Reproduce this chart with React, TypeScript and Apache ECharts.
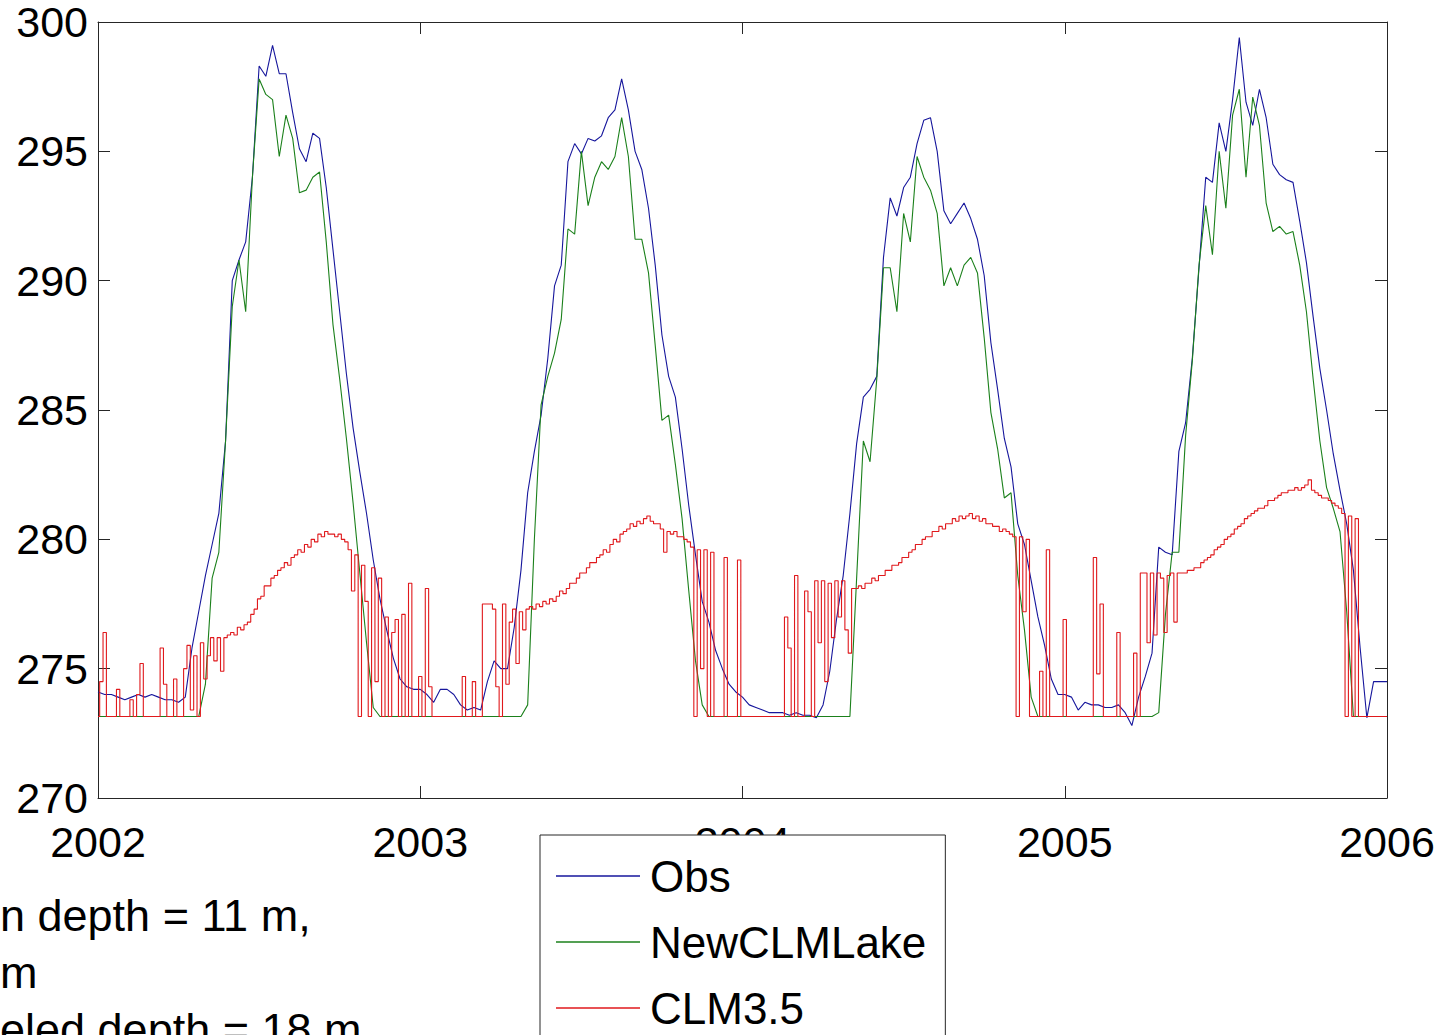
import React, { useEffect, useRef } from "react";
import * as echarts from "echarts";

// ---------- data ----------
const F = 273.15; // freezing floor (K)
const X_MIN = 2002;
const X_MAX = 2006;
const Y_MIN = 270;
const Y_MAX = 300;
const Y_INTERVAL = 5;
const SERIES_NAMES = ["Obs", "NewCLMLake", "CLM3.5"];
const NOTE_LINES = ["n depth = 11 m,", "m", "eled depth = 18 m"];

// weekly-ish sampling (1/48 yr) for Obs and NewCLMLake
const OBS_STEP = 1 / 48;
// finer sampling (1/96 yr) for CLM3.5
const CLM_STEP = 1 / 96;

const obs2002 = [274.1, 274.0, 274.0, 273.9, 273.8, 273.9, 274.0, 273.9, 274.0, 273.9, 273.8, 273.8, 273.7, 273.9, 275.8, 277.2,
  278.6, 279.8, 281.0, 283.8, 290.0, 290.8, 291.5, 294.0, 298.3, 297.9, 299.1, 298.0, 298.0, 296.5, 295.1, 294.6,
  295.7, 295.5, 293.6, 291.2, 288.8, 286.4, 284.3, 282.6, 281.0, 279.2, 277.7, 276.5, 275.4, 274.6, 274.3, 274.2];
const obs2003 = [274.2, 274.0, 273.7, 274.2, 274.2, 274.0, 273.6, 273.4, 273.5, 273.4, 274.5, 275.3, 275.0, 275.0, 276.6, 278.8,
  281.8, 283.4, 284.8, 287.0, 289.8, 290.6, 294.6, 295.3, 294.9, 295.5, 295.4, 295.6, 296.3, 296.6, 297.8, 296.6,
  295.0, 294.3, 292.8, 290.6, 287.9, 286.3, 285.5, 283.5, 281.3, 279.4, 277.6, 276.8, 275.7, 275.0, 274.4, 274.1];
const obs2004 = [273.9, 273.6, 273.5, 273.4, 273.3, 273.3, 273.3, 273.2, 273.3, 273.2, 273.2, 273.1, 273.6, 274.9, 276.9, 278.6,
  281.0, 283.7, 285.5, 285.8, 286.3, 290.9, 293.2, 292.5, 293.6, 294.0, 295.3, 296.2, 296.3, 295.0, 292.7, 292.2,
  292.6, 293.0, 292.4, 291.6, 290.2, 287.6, 285.8, 283.9, 282.8, 280.6, 279.8, 278.4, 277.0, 275.9, 274.6, 274.0];
const obs2005 = [274.0, 273.9, 273.4, 273.7, 273.6, 273.6, 273.5, 273.5, 273.6, 273.3, 272.8, 273.9, 274.7, 275.6, 279.7, 279.5,
  279.4, 283.4, 284.5, 287.0, 290.5, 294.0, 293.8, 296.1, 295.0, 297.0, 299.4, 296.9, 296.0, 297.4, 296.3, 294.5,
  294.1, 293.9, 293.8, 292.3, 290.7, 288.6, 286.6, 285.0, 283.3, 281.9, 280.6, 278.8, 275.8, 273.1, 274.5, 274.5, 274.5];

const new2002 = [F, F, F, F, F, F, F, F, F, F, F, F, F, F, F, F,
  274.4, 278.5, 279.5, 283.8, 289.0, 290.8, 288.8, 294.0, 297.8, 297.2, 297.0, 294.8, 296.4, 295.5, 293.4, 293.5,
  294.0, 294.2, 291.5, 288.3, 286.2, 283.9, 281.4, 278.7, 276.0, 273.5, F, F, F, F, F, F];
const new2003 = [F, F, F, F, F, F, F, F, F, F, F, F, F, F, F, F,
  273.6, 280.0, 285.2, 286.3, 287.2, 288.5, 292.0, 291.8, 295.0, 292.9, 294.0, 294.6, 294.3, 294.8, 296.3, 294.8,
  291.6, 291.6, 290.3, 287.5, 284.6, 284.8, 282.9, 280.8, 278.0, 275.3, 273.6, F, F, F, F, F];
const new2004 = [F, F, F, F, F, F, F, F, F, F, F, F, F, F, F, F,
  F, 278.5, 283.8, 283.0, 286.2, 290.5, 290.5, 288.8, 292.6, 291.5, 294.8, 294.0, 293.5, 292.6, 289.8, 290.5,
  289.8, 290.6, 290.9, 290.3, 287.8, 284.9, 283.5, 281.6, 281.8, 278.6, 276.5, 273.9, F, F, F, F];
const new2005 = [F, F, F, F, F, F, F, F, F, F, F, F, F, F, 273.3, 277.1,
  279.5, 279.5, 284.0, 286.9, 290.6, 292.9, 291.0, 295.0, 292.8, 296.4, 297.4, 294.0, 297.1, 296.0, 293.0, 291.9,
  292.1, 291.8, 291.9, 290.6, 288.8, 286.2, 283.8, 282.0, 281.2, 280.3, 277.2, F, F, F, F, F, F];

const clm2002 = [F, 274.5, 276.4, F, F, F, 274.2, F, F, F, 273.8, F, 274.0, 275.2, F, F,
  F, F, F, 275.8, 274.4, F, F, 274.6, F, F, 275.0, 275.9, 273.4, 275.5, F, 276.0,
  274.6, 275.5, 276.2, 275.3, 276.2, 274.9, 276.2, 276.3, 276.4, 276.3, 276.6, 276.5, 276.7, 276.8, 277.1, 277.3,
  277.7, 277.8, 278.2, 278.2, 278.5, 278.6, 278.8, 278.9, 279.1, 279.0, 279.3, 279.4, 279.6, 279.5, 279.8, 279.7,
  280.0, 279.9, 280.2, 280.1, 280.3, 280.2, 280.2, 280.1, 280.2, 280.0, 279.9, 279.6, 278.0, 279.4, F, 279.0,
  277.6, F, 278.9, 274.5, 278.5, F, 277.0, F, 276.4, 276.9, F, 277.1, F, 278.3, F, F];
const clm2003 = [274.7, F, 278.1, 274.3, F, F, F, F, F, F, F, F, F, 274.7, F, F,
  274.5, F, F, 277.5, 277.5, 277.5, 277.3, 274.3, F, 277.5, 274.4, 276.8, 277.3, 275.2, 277.2, 276.5,
  277.3, 277.4, 277.3, 277.5, 277.4, 277.6, 277.5, 277.7, 277.6, 277.8, 278.0, 277.9, 278.1, 278.3, 278.3, 278.5,
  278.7, 278.7, 278.9, 279.1, 279.1, 279.3, 279.4, 279.6, 279.5, 279.8, 280.0, 279.9, 280.2, 280.3, 280.4, 280.6,
  280.5, 280.7, 280.6, 280.8, 280.9, 280.7, 280.6, 280.6, 280.4, 279.5, 280.3, 280.2, 280.3, 280.1, 280.1, 280.0,
  279.9, 279.7, F, 279.6, 275.0, 279.6, F, 279.5, F, F, F, 279.3, F, F, F, 279.2];
const clm2004 = [F, F, F, F, F, F, F, F, F, F, F, F, F, 277.0, 275.8, F,
  278.6, F, F, 278.0, 277.2, F, 278.4, 276.0, 278.4, 274.5, 278.3, 276.2, 278.4, 277.0, 278.4, 276.5,
  275.6, 278.1, 278.1, 278.2, 278.1, 278.3, 278.3, 278.5, 278.4, 278.6, 278.6, 278.8, 278.8, 279.0, 279.0, 279.1,
  279.3, 279.3, 279.5, 279.6, 279.8, 279.8, 280.0, 280.1, 280.1, 280.3, 280.3, 280.5, 280.4, 280.6, 280.6, 280.8,
  280.7, 280.9, 280.8, 280.9, 281.0, 280.8, 280.9, 280.7, 280.8, 280.6, 280.6, 280.5, 280.5, 280.3, 280.4, 280.3,
  280.2, 280.1, F, 280.1, 277.2, 280.0, F, F, F, 274.9, F, 279.6, F, F, F, F];
const clm2005 = [276.9, F, F, F, F, F, F, F, F, 279.3, 274.8, 277.5, F, F, F, F,
  276.4, F, F, F, F, 275.6, F, 278.7, 278.7, 276.0, 278.7, 276.3, 278.7, 278.5, 276.4, 278.6,
  278.7, 276.8, 278.7, 278.7, 278.7, 278.8, 278.8, 278.9, 278.9, 279.1, 279.2, 279.3, 279.4, 279.6, 279.7, 279.8,
  280.0, 280.1, 280.2, 280.4, 280.5, 280.6, 280.8, 280.9, 281.0, 281.1, 281.2, 281.2, 281.3, 281.5, 281.5, 281.6,
  281.7, 281.8, 281.8, 281.9, 281.9, 282.0, 281.9, 282.0, 282.1, 282.3, 281.9, 281.8, 281.7, 281.6, 281.6, 281.5,
  281.4, 281.3, 281.2, 281.0, F, 280.9, F, 280.8, F, F, F, F, F, F, F, F, F];

const obsValues = [...obs2002, ...obs2003, ...obs2004, ...obs2005];
const newValues = [...new2002, ...new2003, ...new2004, ...new2005];
const clmValues = [...clm2002, ...clm2003, ...clm2004, ...clm2005];

function toPairs(values: number[], start: number, step: number) {
  return values.map((v, i) => [start + i * step, v]);
}

const COLORS = ["#16169c", "#1b801b", "#e0191c"];
const FONT = "'Liberation Sans', Arial, Helvetica, sans-serif";

export default function App() {
  const ref = useRef<HTMLDivElement>(null);

  useEffect(() => {
    if (!ref.current) return;
    const chart = echarts.init(ref.current, undefined, { renderer: "svg" });
    const frame = { show: true, onZero: false, lineStyle: { color: "#262626", width: 1 } };
    const tick = { show: true, inside: true, length: 12, lineStyle: { color: "#262626", width: 1 } };
    const labelStyle = { fontSize: 43, color: "#000", fontFamily: FONT };

    const option: any = {
      animation: false,
      backgroundColor: "#ffffff",
      grid: { left: 98, right: 54, top: 22, bottom: 237, containLabel: false },
      xAxis: [
        {
          type: "value", min: X_MIN, max: X_MAX, interval: 1, position: "bottom",
          axisLine: frame, axisTick: tick, splitLine: { show: false },
          axisLabel: { ...labelStyle, margin: 22, formatter: (v: number) => String(v) },
        },
        {
          type: "value", min: X_MIN, max: X_MAX, interval: 1, position: "top",
          axisLine: frame, axisTick: tick, splitLine: { show: false }, axisLabel: { show: false },
        },
      ],
      yAxis: [
        {
          type: "value", min: Y_MIN, max: Y_MAX, interval: Y_INTERVAL, position: "left",
          axisLine: frame, axisTick: tick, splitLine: { show: false },
          axisLabel: { ...labelStyle, margin: 10, formatter: (v: number) => String(v) },
        },
        {
          type: "value", min: Y_MIN, max: Y_MAX, interval: Y_INTERVAL, position: "right",
          axisLine: frame, axisTick: tick, splitLine: { show: false }, axisLabel: { show: false },
        },
      ],
      legend: {
        data: SERIES_NAMES,
        orient: "vertical",
        left: 540,
        top: 835,
        height: 400,
        padding: [16, 19, 16, 16],
        icon: "rect",
        itemWidth: 84,
        itemHeight: 1.4,
        itemGap: 16,
        selectedMode: false,
        backgroundColor: "#ffffff",
        borderColor: "#262626",
        borderWidth: 1,
        borderRadius: 0,
        textStyle: { fontSize: 44, lineHeight: 50, color: "#000", fontFamily: FONT, padding: [0, 0, 0, 5] },
      },
      graphic: NOTE_LINES.map((t, i) => ({
        type: "text",
        x: 0,
        y: 915 + i * 57,
        style: { text: t, fontSize: 45, fontFamily: FONT, fill: "#000", verticalAlign: "middle", align: "left" },
        z: 10,
      })),
      series: [
        {
          name: SERIES_NAMES[0], type: "line", data: toPairs(obsValues, X_MIN, OBS_STEP),
          showSymbol: false, symbol: "none", lineStyle: { color: COLORS[0], width: 1.1 }, itemStyle: { color: COLORS[0] },
        },
        {
          name: SERIES_NAMES[1], type: "line", data: toPairs(newValues, X_MIN, OBS_STEP),
          showSymbol: false, symbol: "none", lineStyle: { color: COLORS[1], width: 1.1 }, itemStyle: { color: COLORS[1] },
        },
        {
          name: SERIES_NAMES[2], type: "line", step: "middle", data: toPairs(clmValues, X_MIN, CLM_STEP),
          showSymbol: false, symbol: "none", lineStyle: { color: COLORS[2], width: 1.1 }, itemStyle: { color: COLORS[2] },
        },
      ],
    };
    chart.setOption(option);
    return () => chart.dispose();
  }, []);

  return (
    <div
      ref={ref}
      style={{ position: "absolute", left: 0, top: 0, width: 1441, height: 1035, background: "#fff" }}
    />
  );
}
